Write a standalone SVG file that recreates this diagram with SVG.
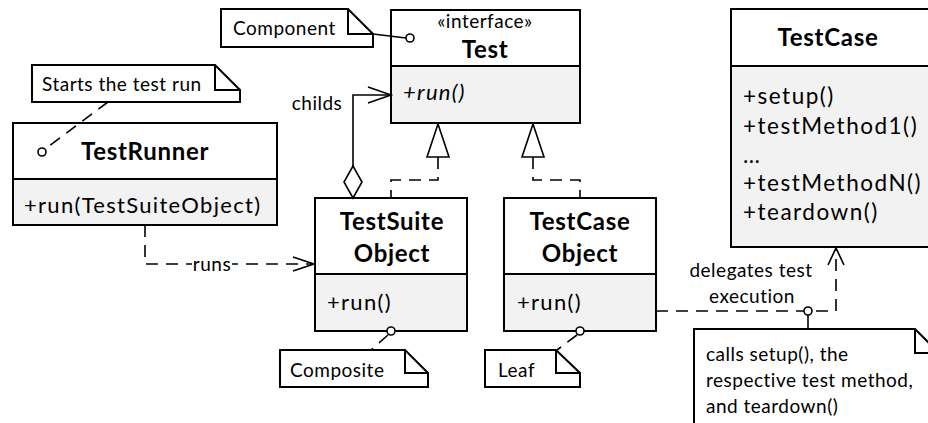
<svg xmlns="http://www.w3.org/2000/svg" width="928" height="423" viewBox="0 0 928 423">
  <defs>
    <style>
      .box { fill: #ffffff; stroke: #000; stroke-width: 2; }
      .ops { fill: #f2f2f2; stroke: #000; stroke-width: 2; }
      .note { fill: #ffffff; stroke: #000; stroke-width: 2; stroke-linejoin: miter; }
      .fold { fill: none; stroke: #000; stroke-width: 2; }
      .line { fill: none; stroke: #000; stroke-width: 1.6; }
      .dash { fill: none; stroke: #000; stroke-width: 1.6; stroke-dasharray: 12 8; }
      .anchor { fill: #ffffff; stroke: #000; stroke-width: 1.6; }
      .head { fill: none; stroke: #000; stroke-width: 1.6; }
      .tri { fill: #ffffff; stroke: #000; stroke-width: 1.6; }
      text { font-family: Lato, "Liberation Sans", sans-serif; fill: #000; }
      .cls { font-size: 24px; font-weight: bold; text-anchor: middle; letter-spacing: 0.7px; }
      .mem { font-size: 22px; letter-spacing: 1.3px; }
      .mem-lg { font-size: 22.5px; letter-spacing: 1.5px; }
      .small { font-size: 19px; letter-spacing: 0.5px; }
      .mid { text-anchor: middle; }
    </style>
  </defs>

  <!-- Test interface -->
  <g id="Test">
    <rect class="box" x="391" y="10" width="189" height="56"/>
    <rect class="ops" x="391" y="66" width="189" height="57"/>
    <text class="small mid" x="485" y="28">«interface»</text>
    <text class="cls" x="485" y="58">Test</text>
    <text class="mem" x="403" y="100" font-style="italic">+run()</text>
  </g>

  <!-- Component note -->
  <g id="note-component">
    <polygon class="note" points="221,9 348,9 373,34 373,47 221,47"/>
    <polyline class="fold" points="348,9 348,34 373,34"/>
    <text class="small" x="233" y="35">Component</text>
  </g>

  <!-- TestCase -->
  <g id="TestCase">
    <rect class="box" x="731" y="9" width="204" height="57"/>
    <rect class="ops" x="731" y="66" width="204" height="181"/>
    <text class="cls" x="828" y="46">TestCase</text>
    <text class="mem-lg" x="743" y="104">+setup()</text>
    <text class="mem-lg" x="743" y="134">+testMethod1()</text>
    <text class="mem-lg" x="743" y="163">…</text>
    <text class="mem-lg" x="743" y="191">+testMethodN()</text>
    <text class="mem-lg" x="743" y="220">+teardown()</text>
  </g>

  <!-- Starts the test run note -->
  <g id="note-starts">
    <polygon class="note" points="32,65 215,65 240,90 240,102 32,102"/>
    <polyline class="fold" points="215,65 215,90 240,90"/>
    <text class="small" x="42" y="91">Starts the test run</text>
  </g>

  <!-- TestRunner -->
  <g id="TestRunner">
    <rect class="box" x="13" y="123" width="264" height="56"/>
    <rect class="ops" x="13" y="179" width="264" height="46"/>
    <text class="cls" x="145" y="160">TestRunner</text>
    <text class="mem" x="24" y="213">+run(TestSuiteObject)</text>
  </g>

  <!-- TestSuiteObject -->
  <g id="TestSuiteObject">
    <rect class="box" x="315" y="198" width="152" height="76"/>
    <rect class="ops" x="315" y="274" width="152" height="57"/>
    <text class="cls" x="392" y="230">TestSuite</text>
    <text class="cls" x="392" y="262">Object</text>
    <text class="mem" x="327" y="310">+run()</text>
  </g>

  <!-- TestCaseObject -->
  <g id="TestCaseObject">
    <rect class="box" x="504" y="198" width="152" height="76"/>
    <rect class="ops" x="504" y="274" width="152" height="57"/>
    <text class="cls" x="580" y="230">TestCase</text>
    <text class="cls" x="580" y="262">Object</text>
    <text class="mem" x="517" y="310">+run()</text>
  </g>

  <!-- Composite note -->
  <g id="note-composite">
    <polygon class="note" points="280,350 405,350 428,373 428,387 280,387"/>
    <polyline class="fold" points="405,350 405,373 428,373"/>
    <text class="small" x="290" y="377">Composite</text>
  </g>

  <!-- Leaf note -->
  <g id="note-leaf">
    <polygon class="note" points="485,350 556,350 580,373 580,387 485,387"/>
    <polyline class="fold" points="556,350 556,373 580,373"/>
    <text class="small" x="498" y="377">Leaf</text>
  </g>

  <!-- delegation note -->
  <g id="note-delegation">
    <polygon class="note" points="694,329 915,329 940,354 940,430 694,430"/>
    <polyline class="fold" points="915,329 915,353 940,353"/>
    <text class="small" x="706" y="361">calls setup(), the</text>
    <text class="small" x="706" y="387">respective test method,</text>
    <text class="small" x="706" y="413">and teardown()</text>
  </g>

  <!-- connectors, drawn over the nodes so note anchors reach into the boxes -->
  <g id="connectors">
    <!-- note anchors -->
    <line class="line" x1="373" y1="34" x2="406" y2="38"/>
    <line class="dash" x1="108" y1="102" x2="45" y2="149" stroke-dasharray="10 7"/>
    <line class="dash" x1="388" y1="335" x2="371" y2="350" stroke-dasharray="8 6"/>
    <line class="dash" x1="577" y1="335" x2="557" y2="350" stroke-dasharray="8 6"/>
    <line class="line" x1="808" y1="315" x2="808" y2="329"/>

    <!-- childs: aggregation TestSuiteObject -> Test -->
    <path class="line" d="M353,166 V95 H390"/>
    <polyline class="head" points="368,87 391,95 368,103"/>
    <polygon class="tri" points="353,198 362,182 353,166 344,182"/>
    <text class="small mid" x="317" y="110">childs</text>

    <!-- realizations -->
    <path class="dash" d="M438,157 V180 H391 V198"/>
    <polygon class="tri" points="438,124 427,157 449,157"/>
    <path class="dash" d="M533,157 V180 H580 V198"/>
    <polygon class="tri" points="533,124 522,157 544,157"/>

    <!-- runs -->
    <path class="dash" d="M145,225 V264 H313"/>
    <polyline class="head" points="293,257 314,264 293,271"/>
    <rect x="192" y="255" width="40" height="18" fill="#ffffff"/>
    <text class="small mid" x="212" y="271">runs</text>

    <!-- delegates test execution -->
    <path class="dash" d="M656,311 H836 V249"/>
    <polyline class="head" points="828,265 836,248 844,265"/>
    <text class="small mid" x="751" y="277">delegates test</text>
    <text class="small mid" x="752" y="303">execution</text>

    <!-- anchor circles -->
    <circle class="anchor" cx="410" cy="38" r="4"/>
    <circle class="anchor" cx="42" cy="152" r="4"/>
    <circle class="anchor" cx="391" cy="331" r="4"/>
    <circle class="anchor" cx="580" cy="331" r="4"/>
    <circle class="anchor" cx="808" cy="311" r="4"/>
  </g>
</svg>
